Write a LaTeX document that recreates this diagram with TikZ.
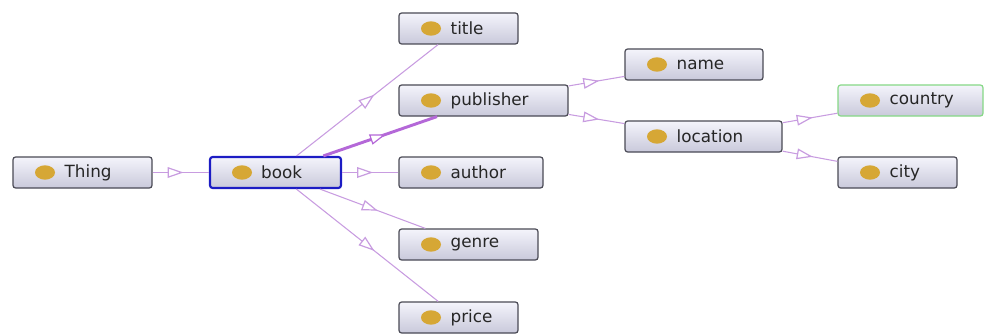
\documentclass[tikz,border=0pt]{standalone}
\usepackage{fontspec}
\setmainfont{DejaVu Sans}
\usetikzlibrary{arrows.meta,decorations.markings}
\definecolor{boxtop}{HTML}{F4F4FB}
\definecolor{boxbot}{HTML}{C9C9DB}
\definecolor{boxline}{HTML}{4A4A55}
\definecolor{dotgold}{HTML}{D6A735}
\definecolor{edgeviolet}{HTML}{C89CE0}
\definecolor{edgestrong}{HTML}{B468D8}
\definecolor{selblue}{HTML}{1C1CC4}
\definecolor{selgreen}{HTML}{86D886}

\begin{document}
\begin{tikzpicture}[x=0.75pt,y=-0.75pt]

\tikzset{
  box_s/.style = {draw=boxline, line width=0.9pt, rounded corners=2pt,
    top color=boxtop, bottom color=boxbot, minimum height=23.25pt,
    inner sep=0pt,
    path picture={\fill[dotgold] ([xshift=24pt]path picture bounding box.west)
      ellipse (7.5pt and 5.4pt);}},
  txt_s/.style = {anchor=west, xshift=39pt, inner sep=0pt,
    font=\fontsize{12.6}{14}\selectfont, text=black!85},
  isa_s/.style = {draw=edgeviolet, line width=0.8pt, postaction={decorate},
    decoration={markings, mark=at position 0.55 with
      {\arrow{Triangle[fill=white, length=12pt, width=8pt, line width=0.9pt]}}}}
}
\useasboundingbox (0,0) rectangle (985,335);

% classes
\node [box_s, minimum width=104.25pt, label={[txt_s]west:Thing}] (thing) at (82.5,172.5) {};
\node [box_s, minimum width=98.25pt, draw=selblue, line width=1.6pt,
  label={[txt_s]west:book}] (book) at (275.5,172.5) {};
\node [box_s, minimum width=89.25pt, label={[txt_s]west:title}] (title) at (458.5,28.5) {};
\node [box_s, minimum width=126.75pt, label={[txt_s]west:publisher}] (publisher) at (483.5,100.5) {};
\node [box_s, minimum width=108pt, label={[txt_s]west:author}] (author) at (471,172.5) {};
\node [box_s, minimum width=104.25pt, label={[txt_s]west:genre}] (genre) at (468.5,244.5) {};
\node [box_s, minimum width=89.25pt, label={[txt_s]west:price}] (price) at (458.5,317.5) {};
\node [box_s, minimum width=103.5pt, label={[txt_s]west:name}] (name) at (694,64.5) {};
\node [box_s, minimum width=117.75pt, label={[txt_s]west:location}] (location) at (703.5,136.5) {};
\node [box_s, minimum width=108.75pt, draw=selgreen,
  label={[txt_s]west:country}] (country) at (910.5,100.5) {};
\node [box_s, minimum width=89.25pt, label={[txt_s]west:city}] (city) at (897.5,172.5) {};

% subclass links
\draw [isa_s] (thing) -- (book);
\draw [isa_s] (book) -- (title);
\draw [isa_s, draw=edgestrong, line width=2.2pt] (book) -- (publisher);
\draw [isa_s] (book) -- (author);
\draw [isa_s] (book) -- (genre);
\draw [isa_s] (book) -- (price);
\draw [isa_s] (publisher) -- (name);
\draw [isa_s] (publisher) -- (location);
\draw [isa_s] (location) -- (country);
\draw [isa_s] (location) -- (city);

\end{tikzpicture}
\end{document}
